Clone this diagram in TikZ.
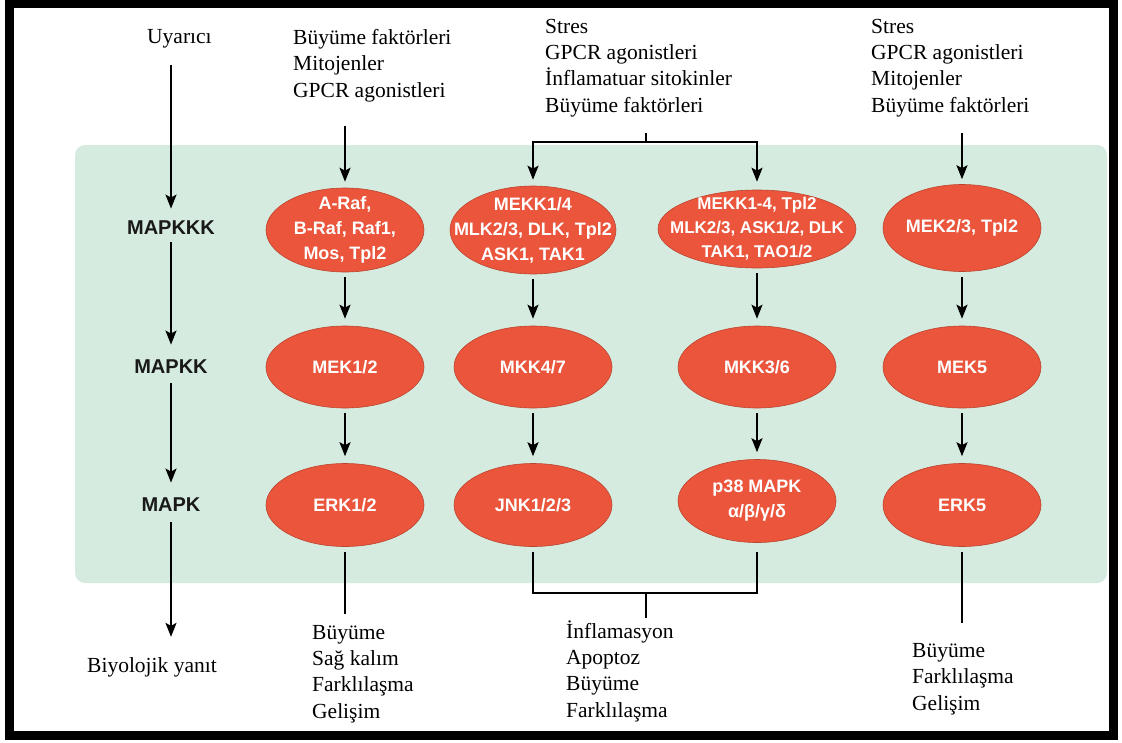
\documentclass[tikz,border=0pt]{standalone}
\usepackage{fontspec}
\setmainfont{Liberation Serif}
\setsansfont{Liberation Sans}
\usetikzlibrary{shapes.geometric,arrows.meta,positioning}
\definecolor{panelgreen}{RGB}{214,235,223}
\definecolor{kinred}{RGB}{234,85,60}
\begin{document}
\begin{tikzpicture}[x=1pt,y=-1pt,
	kin/.style={ellipse,fill=kinred,draw=kinred!80!black,line width=0.6pt,minimum width=158pt,minimum height=84pt,inner sep=-40pt,text=white,align=center,font=\sffamily\bfseries\fontsize{18}{25}\selectfont},
	lvl/.style={text=black!90,font=\sffamily\bfseries\fontsize{20}{24}\selectfont},
	txt/.style={anchor=base west,inner sep=0pt,align=left,font=\fontsize{21.5}{26.3}\selectfont},
	arr/.style={line width=2pt,-{Stealth[length=14pt,width=11pt,inset=3pt]}},
	ln/.style={line width=2pt}]
			\useasboundingbox (0,0) rectangle (1122,742);
			\fill[white] (0,0) rectangle (1122,742);
			\fill[panelgreen,rounded corners=10pt] (75,145) rectangle (1107,583);
			\draw[line width=9pt] (9.5,3.5) rectangle (1113.5,735);
			% levels
			\node[txt] (uyarici) at (147,43) {Uyarıcı};
			\node[lvl] (mapkkk) at (171,228) {MAPKKK};
			\node[lvl] (mapkk) at (171,367) {MAPKK};
			\node[lvl] (mapk) at (171,505) {MAPK};
			\node[txt] (yanit) at (87,672) {Biyolojik yanıt};
			\draw[arr,shorten <=17pt,shorten >=9pt] (uyarici.south -| mapkkk) -- (mapkkk);
			\draw[arr,shorten <=4pt,shorten >=12pt] (mapkkk) -- (mapkk);
			\draw[arr,shorten <=6pt,shorten >=12pt] (mapkk) -- (mapk);
			\draw[arr,shorten <=7pt,shorten >=20pt] (mapk) -- (yanit.north -| mapk);
			% stimuli (base = last line)
			\node[txt] (src1) at (293,97) {Büyüme faktörleri\\Mitojenler\\GPCR agonistleri};
			\node[txt] (src2) at (545,112) {Stres\\GPCR agonistleri\\İnflamatuar sitokinler\\Büyüme faktörleri};
			\node[txt] (src4) at (871,112) {Stres\\GPCR agonistleri\\Mitojenler\\Büyüme faktörleri};
			% kinases
			\node[kin] (raf) at (345,230) {A-Raf,\\B-Raf, Raf1,\\Mos, Tpl2};
			\node[kin,minimum width=166pt,minimum height=88pt] (mekk14) at (533,230) {MEKK1/4\\MLK2/3, DLK, Tpl2\\ASK1, TAK1};
			\node[kin,minimum width=198pt,minimum height=78pt,font=\sffamily\bfseries\fontsize{17}{24}\selectfont] (mekk4) at (757,229) {MEKK1-4, Tpl2\\MLK2/3, ASK1/2, DLK\\TAK1, TAO1/2};
			\node[kin,minimum height=87pt] (mek23) at (962,228) {MEK2/3, Tpl2};
			\node[kin,minimum height=82pt] (mek12) at (345,367) {MEK1/2};
			\node[kin,minimum height=82pt] (mkk47) at (533,367) {MKK4/7};
			\node[kin,minimum height=82pt] (mkk36) at (757,367) {MKK3/6};
			\node[kin,minimum height=82pt] (mek5) at (962,367) {MEK5};
			\node[kin,minimum height=83pt] (erk12) at (345,505) {ERK1/2};
			\node[kin,minimum height=83pt] (jnk) at (533,505) {JNK1/2/3};
			\node[kin,minimum height=83pt] (p38) at (757,501) {p38 MAPK\\α/β/γ/δ};
			\node[kin,minimum height=83pt] (erk5) at (962,505) {ERK5};
			% inputs
			\coordinate (split) at (646,142);
			\coordinate (splittop) at (646,133);
			\draw[arr,shorten <=24pt,shorten >=6pt] (src1.south -| raf) -- (raf);
			\draw[ln] (splittop) -- (split);
			\draw[arr,shorten >=6pt] (split) -| (mekk14);
			\draw[arr,shorten >=8pt] (split) -| (mekk4);
			\draw[arr,shorten <=16pt,shorten >=5pt] (src4.south -| mek23) -- (mek23);
			% cascades
			\foreach \a/\b in {raf/mek12,mek12/erk12,mekk14/mkk47,mkk47/jnk,mekk4/mkk36,mkk36/p38,mek23/mek5,mek5/erk5}
			\draw[arr,shorten <=5pt,shorten >=7pt] (\a) -- (\b);
			% outputs (base = last line)
			\node[txt] (out1) at (312,718) {Büyüme\\Sağ kalım\\Farklılaşma\\Gelişim};
			\node[txt] (out2) at (566,717) {İnflamasyon\\Apoptoz\\Büyüme\\Farklılaşma};
			\node[txt] (out4) at (912,710) {Büyüme\\Farklılaşma\\Gelişim};
			\coordinate (merge) at (646,593);
			\draw[ln,shorten <=5pt,shorten >=11pt] (erk12) -- (out1.north -| erk12);
			\draw[ln,shorten <=5pt,shorten >=9pt] (jnk) |- (merge) -| (p38);
			\draw[ln,shorten >=2pt] (merge) -- (out2.north -| merge);
			\draw[ln,shorten <=5pt,shorten >=20pt] (erk5) -- (out4.north -| erk5);
\end{tikzpicture}
\end{document}
